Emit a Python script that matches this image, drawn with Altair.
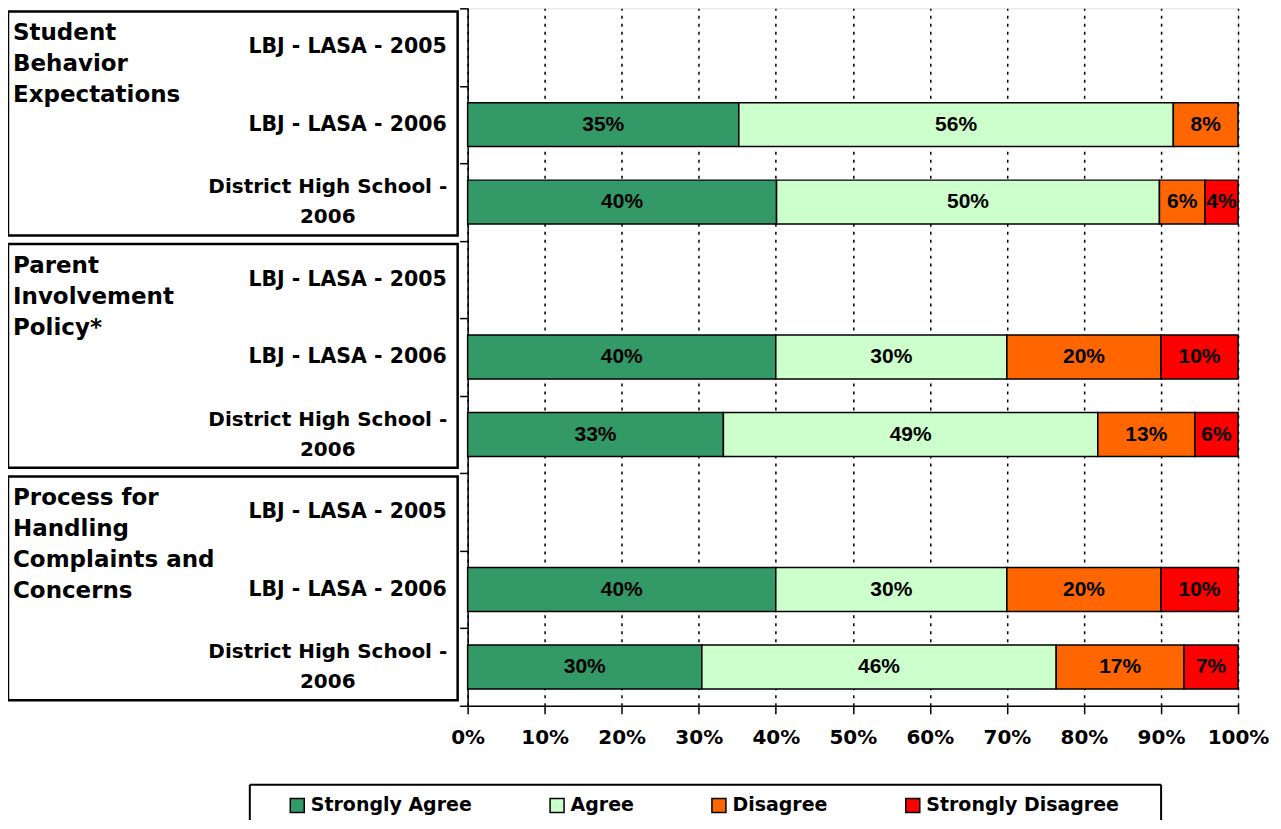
import altair as alt
import pandas as pd

# ---------------- data ----------------
group_titles = [
    "Student\nBehavior\nExpectations",
    "Parent\nInvolvement\nPolicy*",
    "Process for\nHandling\nComplaints and\nConcerns",
]
row_labels = ["LBJ - LASA - 2005", "LBJ - LASA - 2006", "District High School -\n2006"] * 3
responses = ["Strongly Agree", "Agree", "Disagree", "Strongly Disagree"]
colors = ["#339966", "#CCFFCC", "#FF6600", "#FF0000"]

strongly_agree = [None, 35.2, 40.1, None, 40.0, 33.2, None, 40.0, 30.4]
agree = [None, 56.4, 49.7, None, 30.0, 48.6, None, 30.0, 46.0]
disagree = [None, 8.4, 5.9, None, 20.0, 12.6, None, 20.0, 16.6]
strongly_disagree = [None, None, 4.3, None, 10.0, 5.6, None, 10.0, 7.0]

x_ticks = [0, 0.1, 0.2, 0.3, 0.4, 0.5, 0.6, 0.7, 0.8, 0.9, 1.0]

BAR_HALF = 0.283
FONT_L = "DejaVu Sans"
FONT_B = "Liberation Sans"

# ---------------- tables ----------------
series = [strongly_agree, agree, disagree, strongly_disagree]
recs = []
for i in range(len(row_labels)):
    start = 0.0
    for resp, s in zip(responses, series):
        v = s[i]
        if v is None:
            continue
        recs.append(dict(
            row=i, yc=i + 0.5, y0=i + 0.5 - BAR_HALF, y1=i + 0.5 + BAR_HALF,
            response=resp, x0=start / 100, x1=(start + v) / 100,
            xm=(start + v / 2) / 100, label=f"{round(v)}%",
        ))
        start += v
bars = pd.DataFrame(recs)

cats = pd.DataFrame(dict(row=range(len(row_labels)), label=row_labels))
cats["yc"] = cats["row"] + 0.5
cats["two"] = cats["label"].str.contains("\n")

groups = pd.DataFrame(dict(g=range(len(group_titles)), title=group_titles))
groups["start"] = groups["g"] * 3 + 0.04
groups["end"] = groups["g"] * 3 + 2.93
groups["top"] = groups["g"] * 3

yscale = alt.Scale(domain=[0, 9], reverse=True, nice=False, zero=False)
xscale = alt.Scale(domain=[0, 1], nice=False, zero=True)

base = alt.Chart(bars)

bar_layer = base.mark_rect(stroke="black", strokeWidth=1.5).encode(
    x=alt.X("x0:Q", scale=xscale, axis=alt.Axis(
        values=x_ticks, format=".0%", grid=True, gridDash=[3, 5], gridColor="black",
        gridWidth=1.5, gridOpacity=1, tickColor="black", tickSize=8, tickWidth=1.5,
        domainColor="black", domainWidth=1.5, labelFont=FONT_L, labelFontSize=20,
        labelFontWeight="bold", labelColor="black", labelPadding=14, title=None,
        labelFlush=False)),
    x2="x1:Q",
    y=alt.Y("y0:Q", scale=yscale, axis=alt.Axis(
        values=list(range(10)), labels=False, grid=False, tickColor="black",
        tickSize=8, tickWidth=1.5, domainColor="black", domainWidth=1.5, title=None)),
    y2="y1:Q",
    color=alt.Color("response:N", scale=alt.Scale(domain=responses, range=colors),
                    legend=alt.Legend(
                        orient="none", legendX=-180, legendY=788, direction="horizontal",
                        columns=4, title=None, symbolType="square", symbolSize=196,
                        symbolStrokeColor="black", symbolStrokeWidth=1.5,
                        labelFont=FONT_L, labelFontSize=19, labelFontWeight="bold",
                        labelColor="black", labelOffset=4, columnPadding=74,
                        labelLimit=0, padding=0)),
)

bar_text = base.mark_text(font=FONT_B, fontSize=21, fontWeight="bold", color="black",
                          baseline="middle", align="center").encode(
    x=alt.X("xm:Q", scale=xscale),
    y=alt.Y("yc:Q", scale=yscale),
    text="label:N",
)

cat_single = alt.Chart(cats).transform_filter("!datum.two").mark_text(
    font=FONT_L, fontSize=20.5, fontWeight="bold", color="black", align="right",
    baseline="middle").encode(
    x=alt.value(-21), y=alt.Y("yc:Q", scale=yscale), text="label:N")

cat_double = alt.Chart(cats).transform_filter("datum.two").mark_text(
    font=FONT_L, fontSize=20, fontWeight="bold", color="black", align="center",
    baseline="middle", lineBreak="\n", lineHeight=30, dy=-15).encode(
    x=alt.value(-140), y=alt.Y("yc:Q", scale=yscale), text="label:N")

boxes = alt.Chart(groups).mark_rect(fill="white", fillOpacity=0, stroke="black",
                                    strokeWidth=2.5).encode(
    x=alt.value(-460), x2=alt.value(-10),
    y=alt.Y("start:Q", scale=yscale), y2="end:Q")

titles = alt.Chart(groups).mark_text(
    font=FONT_L, fontSize=23, fontWeight="bold", color="black", align="left",
    baseline="top", lineBreak="\n", lineHeight=31, dy=14).encode(
    x=alt.value(-455), y=alt.Y("top:Q", scale=yscale), text="title:N")

# legend frame (its bottom edge lies below the visible page, as in the reference)
frame = alt.Chart(pd.DataFrame({"k": [0]}))
frame_top = frame.mark_rule(color="black", strokeWidth=2).encode(
    x=alt.value(-218), x2=alt.value(694), y=alt.value(777))
frame_left = frame.mark_rule(color="black", strokeWidth=2).encode(
    x=alt.value(-218), y=alt.value(777), y2=alt.value(860))
frame_right = frame.mark_rule(color="black", strokeWidth=2).encode(
    x=alt.value(694), y=alt.value(777), y2=alt.value(860))

chart = alt.layer(boxes, titles, cat_single, cat_double, frame_top, frame_left, frame_right,
                  bar_layer, bar_text).properties(
    width=771, height=698,
    autosize=alt.AutoSizeParams(type="none"),
    padding={"left": 460, "top": 0, "right": 35, "bottom": 114},
).configure_view(stroke=None).configure(background="white")

chart.save("out.html", embed_options={"renderer": "svg", "actions": False})
